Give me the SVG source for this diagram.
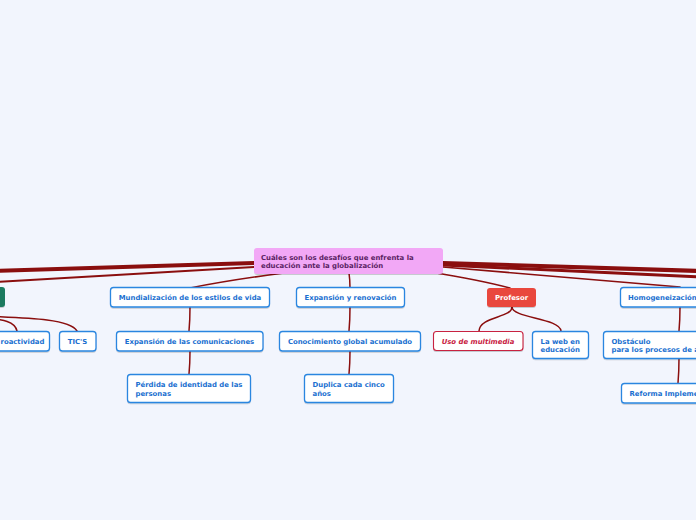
<svg xmlns="http://www.w3.org/2000/svg" width="696" height="520" viewBox="0 0 696 520">
<style>
.bg{fill:#f2f5fd}
.n{fill:#ffffff;stroke:#2a86e0;stroke-width:1.3}
.t{font-family:"DejaVu Sans",Verdana,sans-serif;font-weight:bold;font-size:6.9px;fill:#1a6fd0}
.c{fill:none;stroke:#8a0e0e;stroke-linecap:round}
</style>
<defs>
<filter id="sh" x="-10%" y="-20%" width="120%" height="150%">
<feDropShadow dx="0" dy="1" stdDeviation="0.6" flood-color="#000" flood-opacity="0.18"/>
</filter>
</defs>
<rect class="bg" x="0" y="0" width="696" height="520"/>
<g id="connectors">
<path class="c" stroke-width="4" d="M254,263 L-5,271"/>
<path class="c" stroke-width="2" d="M254,267 L-20,283"/>
<path class="c" stroke-width="4" d="M443,263 L700,271"/>
<path class="c" stroke-width="3" d="M443,265 L700,277"/>
<path class="c" stroke-width="1.6" d="M443,267 L680,287"/>
<path class="c" stroke-width="1.5" d="M430,272 Q480,280 510,288"/>
<path class="c" stroke-width="1.5" d="M284,273 Q230,280 190,288"/>
<path class="c" stroke-width="1.5" d="M349,273 Q350,280 350,288"/>
<path class="c" stroke-width="1.5" d="M-20,316 C30,318 70,319 77,331"/>
<path class="c" stroke-width="1.5" d="M-20,318 C5,319 15,322 17,331"/>
<path class="c" stroke-width="1.5" d="M190,307 Q190,320 189,331"/>
<path class="c" stroke-width="1.5" d="M190,351 Q190,363 189,374"/>
<path class="c" stroke-width="1.5" d="M350,307 Q350,320 349,331"/>
<path class="c" stroke-width="1.5" d="M350,351 Q350,363 349,374"/>
<path class="c" stroke-width="1.5" d="M512,307 C512,318 480,316 479,331"/>
<path class="c" stroke-width="1.5" d="M512,307 C512,318 560,318 561,331"/>
<path class="c" stroke-width="1.5" d="M680,307 Q680,320 679,331"/>
<path class="c" stroke-width="1.5" d="M679,358 Q679,371 678,383"/>
</g>
<g id="central">
<rect x="254" y="248" width="189" height="26" rx="3" fill="#f2a8f6" filter="url(#sh)"/>
<text class="t" style="fill:#5a1f63" x="261" y="260">Cuáles son los desafíos que enfrenta la</text>
<text class="t" style="fill:#5a1f63" x="261" y="268">educación ante la globalización</text>
</g>
<g id="green">
<rect x="-20" y="287" width="25" height="20" rx="3" fill="#1a7a5e" filter="url(#sh)"/>
</g>
<g id="mundializacion">
<rect class="n" x="110.5" y="287.5" width="159" height="19.5" rx="3" filter="url(#sh)"/>
<text class="t" x="190" y="300" text-anchor="middle">Mundialización de los estilos de vida</text>
</g>
<g id="expansion-renovacion">
<rect class="n" x="296.5" y="287.5" width="108" height="19.5" rx="3" filter="url(#sh)"/>
<text class="t" x="350.5" y="300" text-anchor="middle">Expansión y renovación</text>
</g>
<g id="profesor">
<rect x="487" y="288" width="49" height="19" rx="3" fill="#e9463c" filter="url(#sh)"/>
<text class="t" style="fill:#ffffff" x="511.5" y="300" text-anchor="middle">Profesor</text>
</g>
<g id="homogeneizacion">
<rect class="n" x="620.5" y="287.5" width="90" height="19.5" rx="3" filter="url(#sh)"/>
<text class="t" x="628" y="300">Homogeneización</text>
</g>
<g id="proactividad">
<rect class="n" x="-20" y="331.5" width="69.5" height="19.5" rx="3" filter="url(#sh)"/>
<text class="t" x="0.5" y="344">roactividad</text>
</g>
<g id="tics">
<rect class="n" x="59.5" y="331.5" width="36.5" height="19.5" rx="3" filter="url(#sh)"/>
<text class="t" x="77.5" y="344" text-anchor="middle">TIC'S</text>
</g>
<g id="expansion-comunicaciones">
<rect class="n" x="116.5" y="331.5" width="146.5" height="19.5" rx="3" filter="url(#sh)"/>
<text class="t" x="189.5" y="344" text-anchor="middle">Expansión de las comunicaciones</text>
</g>
<g id="conocimiento">
<rect class="n" x="279.5" y="331.5" width="141" height="19.5" rx="3" filter="url(#sh)"/>
<text class="t" x="350" y="344" text-anchor="middle">Conocimiento global acumulado</text>
</g>
<g id="multimedia">
<rect x="433.5" y="331.5" width="89.5" height="19" rx="3" fill="#ffffff" stroke="#c8213f" stroke-width="1.1" filter="url(#sh)"/>
<text class="t" style="fill:#c8213f;font-style:italic" x="478" y="344" text-anchor="middle">Uso de multimedia</text>
</g>
<g id="web">
<rect class="n" x="532.5" y="331.5" width="56" height="27" rx="3" filter="url(#sh)"/>
<text class="t" x="540.5" y="344">La web en</text>
<text class="t" x="540.5" y="352">educación</text>
</g>
<g id="obstaculo">
<rect class="n" x="603.5" y="331.5" width="100" height="27" rx="3" filter="url(#sh)"/>
<text class="t" x="611.5" y="344">Obstáculo</text>
<text class="t" x="611.5" y="352">para los procesos de a</text>
</g>
<g id="perdida">
<rect class="n" x="127.5" y="374.5" width="123" height="28" rx="3" filter="url(#sh)"/>
<text class="t" x="135.5" y="387">Pérdida de identidad de las</text>
<text class="t" x="135.5" y="395.5">personas</text>
</g>
<g id="duplica">
<rect class="n" x="304.5" y="374.5" width="89" height="28" rx="3" filter="url(#sh)"/>
<text class="t" x="312.5" y="387">Duplica cada cinco</text>
<text class="t" x="312.5" y="395.5">años</text>
</g>
<g id="reforma">
<rect class="n" x="621.5" y="383.5" width="90" height="19.5" rx="3" filter="url(#sh)"/>
<text class="t" x="629.5" y="396">Reforma Impleme</text>
</g>
</svg>
